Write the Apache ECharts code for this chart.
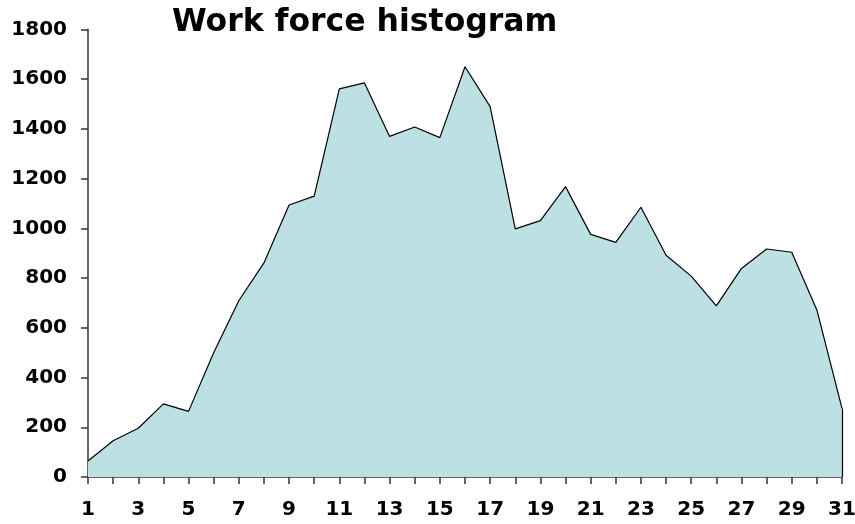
<!DOCTYPE html>
<html>
<head>
<meta charset="utf-8">
<script src="https://cdn.jsdelivr.net/npm/echarts@6/dist/echarts.min.js"></script>
<style>
  html, body { margin: 0; padding: 0; background: #fff; }
  #chart { width: 855px; height: 524px; }
</style>
</head>
<body>
<div id="chart"></div>
<script>
// Days of the month
const days = ['1','2','3','4','5','6','7','8','9','10','11','12','13','14','15','16',
  '17','18','19','20','21','22','23','24','25','26','27','28','29','30','31'];
// Work force per day
const workforce = [64, 146, 196, 294, 264, 500, 709, 861, 1094, 1130, 1561, 1585, 1370, 1408, 1365, 1650,
  1490, 998, 1031, 1168, 976, 944, 1085, 892, 808, 688, 839, 917, 904, 672, 276];
const yTicks = [0, 200, 400, 600, 800, 1000, 1200, 1400, 1600, 1800];

const chart = echarts.init(document.getElementById('chart'));
const font = '"DejaVu Sans", "Open Sans", sans-serif';
const lastDay = days[days.length - 1];
const lastVal = workforce[workforce.length - 1];

chart.setOption({
  animation: false,
  backgroundColor: '#ffffff',
  title: {
    text: 'Work force histogram',
    left: 167,
    top: 2,
    textStyle: { fontFamily: font, fontWeight: 'bold', fontSize: 31.5, color: '#000' }
  },
  grid: { left: 88, right: 13, top: 29.5, bottom: 47, outerBoundsMode: 'none', containLabel: false },
  xAxis: {
    type: 'category',
    data: days,
    boundaryGap: false,
    axisLine: { lineStyle: { color: '#333', width: 1.5 } },
    axisTick: { show: true, interval: 0, length: 7, lineStyle: { color: '#333', width: 1.5 } },
    axisLabel: {
      interval: 1,
      margin: 23,
      fontFamily: font, fontWeight: 'bold', fontSize: 20, color: '#000'
    },
    splitLine: { show: false }
  },
  yAxis: {
    type: 'value',
    min: yTicks[0],
    max: yTicks[yTicks.length - 1],
    interval: 200,
    axisLine: { show: true, lineStyle: { color: '#333', width: 1.5 } },
    axisTick: { show: true, length: 7, lineStyle: { color: '#333', width: 1.5 } },
    axisLabel: {
      margin: 21,
      formatter: v => String(v),
      fontFamily: font, fontWeight: 'bold', fontSize: 20, color: '#000'
    },
    splitLine: { show: false }
  },
  series: [{
    type: 'line',
    data: workforce,
    symbol: 'none',
    lineStyle: { color: '#000', width: 1.2 },
    areaStyle: { color: '#bce0e3', opacity: 1 },
    // closing edge of the area at the last day
    markLine: {
      silent: true,
      symbol: 'none',
      label: { show: false },
      lineStyle: { color: '#000', width: 1.2, type: 'solid' },
      data: [[{ coord: [lastDay, 0] }, { coord: [lastDay, lastVal] }]]
    }
  }]
});
</script>
</body>
</html>
